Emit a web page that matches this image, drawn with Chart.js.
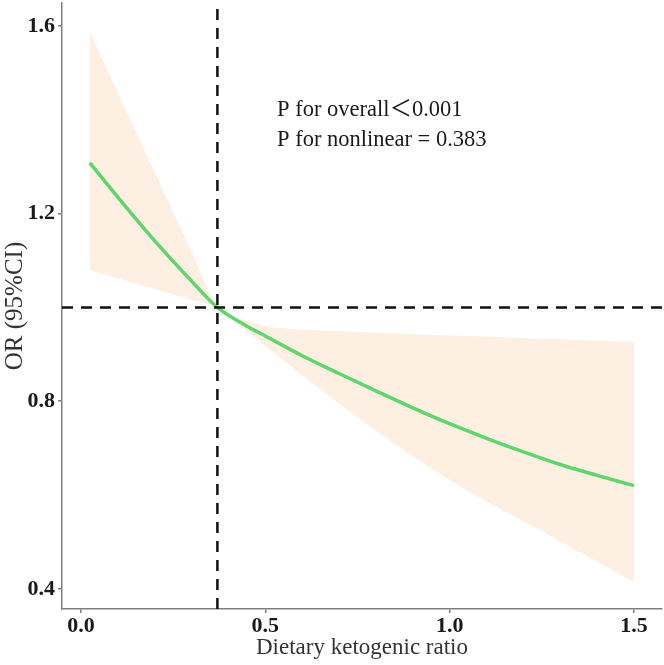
<!DOCTYPE html>
<html>
<head>
<meta charset="utf-8">
<script src="https://cdn.jsdelivr.net/npm/chart.js@4/dist/chart.umd.min.js"></script>
<style>
html,body{margin:0;padding:0;background:#fff;}
#wrap{width:664px;height:665px;}
</style>
</head>
<body>
<div id="wrap"><canvas id="c" width="664" height="665"></canvas></div>
<script>
// ---- data ----
const xValues   = [0.024, 0.1, 0.2, 0.3, 0.37, 0.45, 0.5, 0.6, 0.7, 0.8, 0.9, 1.0, 1.1, 1.2, 1.3, 1.4, 1.5];
const orValues  = [1.308, 1.235, 1.142, 1.056, 1.0, 0.960, 0.939, 0.897, 0.859, 0.822, 0.786, 0.752, 0.721, 0.692, 0.665, 0.642, 0.620];
const upperCI   = [1.587, 1.458, 1.288, 1.119, 1.0, 0.972, 0.960, 0.953, 0.949, 0.946, 0.943, 0.940, 0.938, 0.935, 0.932, 0.929, 0.926];
const lowerCI   = [1.080, 1.062, 1.039, 1.016, 1.0, 0.950, 0.918, 0.856, 0.795, 0.737, 0.682, 0.632, 0.586, 0.544, 0.501, 0.458, 0.415];
const refX = 0.37;
const refY = 1.0;
const xTickValues = [0, 0.5, 1.0, 1.5];
const xTickLabels = ['0.0', '0.5', '1.0', '1.5'];
const yTickValues = [0.4, 0.8, 1.2, 1.6];
const yTickLabels = ['0.4', '0.8', '1.2', '1.6'];
const annotationLines = ['P for overall\uFF1C0.001', 'P for nonlinear = 0.383'];
const xTitle = 'Dietary ketogenic ratio';
const yTitle = 'OR (95%CI)';

// ---- axis ranges ----
const X_MIN = -0.0515, X_MAX = 1.576;
const Y_MIN = 0.357, Y_MAX = 1.649;

const pts = (ys) => xValues.map((x, i) => ({x: x, y: ys[i]}));

const annotationPlugin = {
  id: 'annot',
  afterDatasetsDraw(chart) {
    const ctx = chart.ctx;
    ctx.save();
    ctx.fillStyle = '#1a1a1a';
    ctx.font = '22.5px "Liberation Serif", "Noto Sans CJK SC", serif';
    ctx.textBaseline = 'middle';
    ctx.textAlign = 'left';
    ctx.fillText(annotationLines[0], 277, 110);
    ctx.fillText(annotationLines[1], 277, 140);
    ctx.restore();
  }
};

const axisColor = '#7f7f7f';
const tickFont = {family: '"Liberation Serif", serif', size: 22, weight: 'bold'};
const xTitleFont = {family: '"Liberation Serif", serif', size: 23};
const yTitleFont = {family: '"Liberation Serif", serif', size: 25};

new Chart(document.getElementById('c'), {
  type: 'scatter',
  data: {
    datasets: [
      {
        label: 'lower',
        data: pts(lowerCI),
        showLine: true,
        borderWidth: 0,
        pointRadius: 0,
        fill: false,
        cubicInterpolationMode: 'monotone',
        order: 5
      },
      {
        label: 'upper',
        data: pts(upperCI),
        showLine: true,
        borderWidth: 0,
        pointRadius: 0,
        fill: '-1',
        backgroundColor: '#fdefe2',
        cubicInterpolationMode: 'monotone',
        order: 4
      },
      {
        label: 'OR',
        data: pts(orValues),
        showLine: true,
        borderColor: '#5fd56d',
        borderWidth: 3.5,
        pointRadius: 0,
        fill: false,
        cubicInterpolationMode: 'monotone',
        order: 1
      },
      {
        label: 'hline',
        data: [{x: X_MIN, y: refY}, {x: X_MAX, y: refY}],
        showLine: true,
        borderColor: '#111111',
        borderWidth: 2.5,
        borderDash: [11, 8],
        pointRadius: 0,
        fill: false,
        order: 0
      },
      {
        label: 'vline',
        data: [{x: refX, y: Y_MIN}, {x: refX, y: Y_MAX}],
        showLine: true,
        borderColor: '#111111',
        borderWidth: 2.5,
        borderDash: [11, 8],
        pointRadius: 0,
        fill: false,
        order: 0
      }
    ]
  },
  options: {
    responsive: false,
    animation: false,
    layout: {padding: {top: 3, right: 2, left: 0, bottom: 0}},
    plugins: {legend: {display: false}, tooltip: {enabled: false}},
    scales: {
      x: {
        type: 'linear',
        min: X_MIN, max: X_MAX,
        afterBuildTicks(scale) { scale.ticks = xTickValues.map(v => ({value: v})); },
        afterFit(scale) { scale.height = 56; scale.paddingLeft = 0; scale.paddingRight = 0; },
        ticks: {
          callback(v) { const i = xTickValues.indexOf(v); return i >= 0 ? xTickLabels[i] : ''; },
          font: tickFont, color: '#1a1a1a', padding: 0, maxRotation: 0, autoSkip: false
        },
        grid: {display: true, drawOnChartArea: false, drawTicks: true, tickLength: 4, color: axisColor, lineWidth: 1.5},
        border: {display: true, color: axisColor, width: 1.5},
        title: {display: true, text: xTitle, font: xTitleFont, color: '#333333', padding: {top: 0, bottom: 3}}
      },
      y: {
        type: 'linear',
        min: Y_MIN, max: Y_MAX,
        afterBuildTicks(scale) { scale.ticks = yTickValues.map(v => ({value: v})); },
        afterFit(scale) { scale.width = 62; scale.paddingTop = 0; scale.paddingBottom = 0; },
        ticks: {
          callback(v) { const i = yTickValues.indexOf(v); return i >= 0 ? yTickLabels[i] : ''; },
          font: tickFont, color: '#1a1a1a', padding: 3, autoSkip: false
        },
        grid: {display: true, drawOnChartArea: false, drawTicks: true, tickLength: 4, color: axisColor, lineWidth: 1.5},
        border: {display: true, color: axisColor, width: 1.5},
        title: {display: true, text: yTitle, font: yTitleFont, color: '#333333', padding: {top: 0, bottom: 0}}
      }
    }
  },
  plugins: [annotationPlugin]
});
</script>
</body>
</html>
